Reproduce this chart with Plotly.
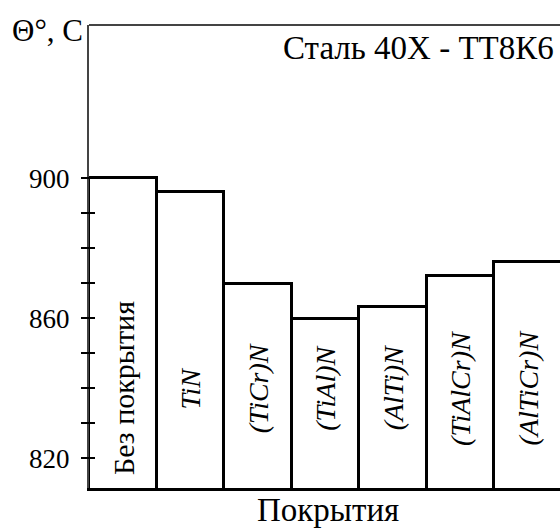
import plotly.graph_objects as go

categories = ["Без покрытия", "TiN", "(TiCr)N", "(TiAl)N", "(AlTi)N", "(TiAlCr)N", "(AlTiCr)N"]
temperatures = [900, 896, 869.8, 859.7, 863.3, 872.2, 876.0]
italic_flags = [False, True, True, True, True, True, True]
tick_values = [820, 830, 840, 850, 860, 870, 880, 890, 900]
tick_labels = ["820", "", "", "", "860", "", "", "", "900"]

FONT = "Liberation Serif"
x_pos = list(range(len(categories)))

fig = go.Figure()
fig.add_trace(go.Bar(
    x=x_pos, y=temperatures, base=0,
    marker=dict(color="white", line=dict(color="black", width=3)),
    width=1.0, showlegend=False, hoverinfo="skip",
))

fig.add_trace(go.Scatter(x=[0], y=[900], yaxis="y2", mode="markers",
                         marker=dict(opacity=0), showlegend=False, hoverinfo="skip"))

for xi, name, it in zip(x_pos, categories, italic_flags):
    txt = f"<i>{name}</i>" if it else name
    fig.add_annotation(x=xi, y=840, text=txt, textangle=-90, showarrow=False,
                       font=dict(family=FONT, size=28 if it else 30, color="black"),
                       xanchor="center", yanchor="middle")

fig.add_annotation(xref="paper", yref="paper", x=0.992, y=0.950,
                   text="Сталь 40Х - ТТ8К6", showarrow=False,
                   xanchor="right", yanchor="middle",
                   font=dict(family=FONT, size=33, color="black"))
fig.add_annotation(xref="paper", yref="paper", x=-0.168, y=0.988,
                   text="Θ°, C", showarrow=False,
                   xanchor="left", yanchor="middle",
                   font=dict(family=FONT, size=31, color="black"))
fig.add_annotation(xref="paper", yref="paper", x=0.507, y=-0.0905,
                   text="Покрытия", showarrow=False,
                   xanchor="center", yanchor="bottom",
                   font=dict(family=FONT, size=33, color="black"))

fig.add_shape(type="line", xref="paper", yref="paper", x0=0, x1=1, y0=1, y1=1,
              line=dict(color="#444444", width=2))

yr = [811.5, 943.8]
fig.update_layout(
    width=560, height=530,
    margin=dict(l=89, r=0, t=25, b=42),
    paper_bgcolor="white", plot_bgcolor="white",
    bargap=0,
    xaxis=dict(range=[-0.5, 6.47], showgrid=False, zeroline=False,
               showticklabels=False, ticks="", showline=True,
               linecolor="black", linewidth=3),
    yaxis=dict(range=yr, showgrid=False, zeroline=False,
               tickvals=tick_values, ticktext=tick_labels,
               ticks="outside", ticklen=6, tickwidth=2, tickcolor="black",
               showline=True, linecolor="#444444", linewidth=2,
               tickfont=dict(family=FONT, size=27, color="black"),
               ticklabelstandoff=6),
    yaxis2=dict(range=yr, overlaying="y", side="left", anchor="free",
                position=0.0127, showgrid=False,
                zeroline=False, tickvals=tick_values, showticklabels=False,
                ticks="outside", ticklen=12, tickwidth=2, tickcolor="black",
                showline=False),
)

fig.write_html("out.html")
